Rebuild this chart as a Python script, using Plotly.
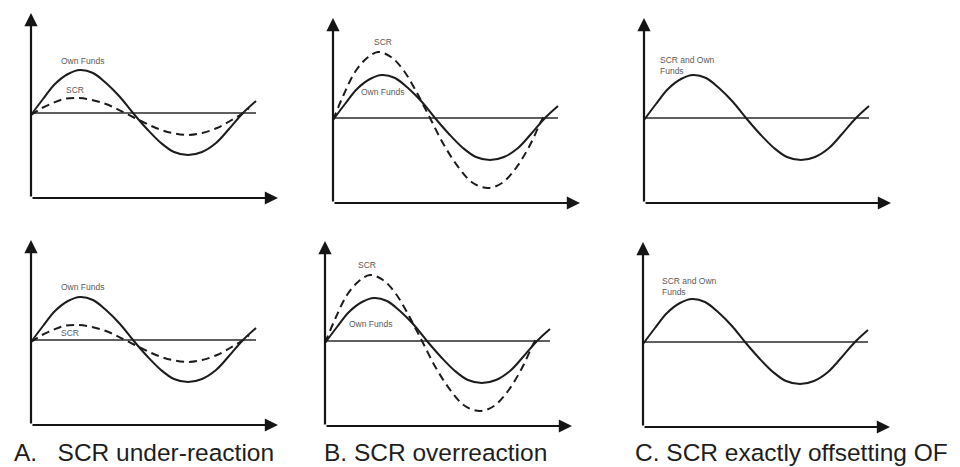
import plotly.graph_objects as go

W, H = 960, 467

# ---- data (x = distance from the vertical axis, y = height above the zero line) ----
own_t = [0, 12, 24, 37, 49, 62, 75, 89, 102, 116, 130, 143, 157, 171, 185, 198, 212, 225]
own_v = [-2, 14, 29, 39, 43, 40, 30, 16, 0, -16, -30, -39, -42, -39, -30, -16, 0, 12]

scr_under_t = [0, 11, 22, 33, 44, 56, 69, 82, 94, 110, 125, 141, 157, 171, 186, 199, 212, 218]
scr_under_v = [-2, 5, 10, 14, 15, 14, 11, 6, 0, -8, -15, -20, -22, -20, -15, -8, 0, 5]

scr_over_t = [0, 11, 22, 34, 45, 58, 71, 84, 97, 111, 126, 140, 155, 169, 183, 197, 210, 213]
scr_over_v = [-2, 24, 46, 60, 66, 61, 47, 25, 0, -27, -50, -65, -70, -65, -50, -27, 0, 3]

zero_t = [0, 225]
zero_v = [0, 0]

x_axis_end = 247     # arrow tip of the horizontal axis
y_axis_top = 100     # arrow tip of the vertical axis
y_axis_bottom = -85  # level of the horizontal axis

captions = ["A.\u00a0\u00a0\u00a0SCR under-reaction", "B. SCR overreaction", "C. SCR exactly offsetting OF"]

# ---- layout of panels (pixel origin of each panel = vertical axis x, zero line y) ----
panels = [
    dict(origin=(31, 113), scr="under", labels=[("Own Funds", 51, 52), ("SCR", 44, 23)]),
    dict(origin=(333, 118), scr="over", labels=[("SCR", 50, 76), ("Own Funds", 49, 26)]),
    dict(origin=(644, 118), scr=None, labels=[("SCR and Own<br>Funds", 14, 53)]),
    dict(origin=(31, 340), scr="under", labels=[("Own Funds", 51, 53), ("SCR", 39, 7)]),
    dict(origin=(325, 341), scr="over", labels=[("SCR", 42, 76), ("Own Funds", 45, 17)]),
    dict(origin=(643, 342), scr=None, labels=[("SCR and Own<br>Funds", 17, 56)]),
]
caption_pos = [(12, 452), (322, 452), (633, 452)]

XR = (-20, 260)
YR = (-100, 110)

LINE = "#1c1c1c"
AXIS = "#151515"
LABEL = "#5a5a5a"
FONT = "Liberation Sans, Arial, sans-serif"

fig = go.Figure()
layout = dict(width=W, height=H, margin=dict(l=0, r=0, t=0, b=0),
              paper_bgcolor="white", plot_bgcolor="white", showlegend=False)
annotations = []

for i, p in enumerate(panels, start=1):
    ox, oy = p["origin"]
    xa = "x" if i == 1 else f"x{i}"
    ya = "y" if i == 1 else f"y{i}"
    xkey = "xaxis" if i == 1 else f"xaxis{i}"
    ykey = "yaxis" if i == 1 else f"yaxis{i}"
    layout[xkey] = dict(domain=[(ox + XR[0]) / W, (ox + XR[1]) / W], range=list(XR),
                        visible=False, fixedrange=True, anchor=ya)
    layout[ykey] = dict(domain=[(H - (oy - YR[0])) / H, (H - (oy - YR[1])) / H], range=list(YR),
                        visible=False, fixedrange=True, anchor=xa)

    # zero line
    fig.add_trace(go.Scatter(x=zero_t, y=zero_v, mode="lines", xaxis=xa, yaxis=ya,
                             line=dict(color="#2a2a2a", width=1.6), hoverinfo="skip"))
    # SCR
    if p["scr"] == "under":
        fig.add_trace(go.Scatter(x=scr_under_t, y=scr_under_v, mode="lines", xaxis=xa, yaxis=ya,
                                 line=dict(color=LINE, width=2, dash="8px,5px", shape="spline"),
                                 hoverinfo="skip"))
    elif p["scr"] == "over":
        fig.add_trace(go.Scatter(x=scr_over_t, y=scr_over_v, mode="lines", xaxis=xa, yaxis=ya,
                                 line=dict(color=LINE, width=2, dash="8px,5px", shape="spline"),
                                 hoverinfo="skip"))
    # Own funds
    fig.add_trace(go.Scatter(x=own_t, y=own_v, mode="lines", xaxis=xa, yaxis=ya,
                             line=dict(color=LINE, width=2, shape="spline"), hoverinfo="skip"))

    # axes with arrows
    common = dict(xref=xa, yref=ya, axref=xa, ayref=ya, showarrow=True, text="",
                  arrowhead=2, arrowsize=1.2, arrowwidth=2.2, arrowcolor=AXIS, standoff=0)
    annotations.append(dict(x=0, y=y_axis_top, ax=0, ay=y_axis_bottom, **common))
    annotations.append(dict(x=x_axis_end, y=y_axis_bottom, ax=0, ay=y_axis_bottom, **common))

    # labels
    for txt, lx, ly in p["labels"]:
        multi = "<br>" in txt
        annotations.append(dict(x=lx, y=ly, xref=xa, yref=ya, text=txt, showarrow=False,
                                xanchor="left" if multi else "center", yanchor="middle",
                                align="left",
                                font=dict(family=FONT, size=8.5, color=LABEL)))

for txt, (cx, cy) in zip(captions, caption_pos):
    annotations.append(dict(x=cx / W, y=(H - cy) / H, xref="paper", yref="paper", text=txt,
                            showarrow=False, xanchor="left", yanchor="middle",
                            font=dict(family=FONT, size=24.5, color="#1e1e1e")))

layout["annotations"] = annotations
fig.update_layout(**layout)

fig.write_html("out.html", config={"displayModeBar": False, "staticPlot": True},
               post_script="document.body.style.margin='0';")
